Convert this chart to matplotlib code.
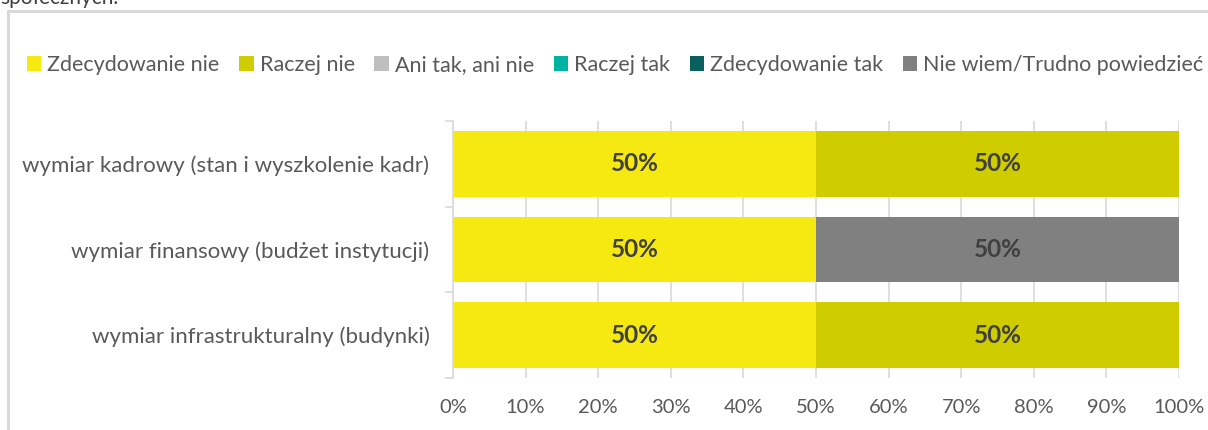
import matplotlib
matplotlib.use("Agg")
import matplotlib.pyplot as plt
from matplotlib.lines import Line2D
from matplotlib.patches import Patch
import numpy as np

plt.rcParams['font.family'] = ['Lato', 'DejaVu Sans']

categories = ["wymiar kadrowy (stan i wyszkolenie kadr)",
              "wymiar finansowy (budżet instytucji)",
              "wymiar infrastrukturalny (budynki)"]
series_names = ["Zdecydowanie nie", "Raczej nie", "Ani tak, ani nie",
                "Raczej tak", "Zdecydowanie tak", "Nie wiem/Trudno powiedzieć"]
series_colors = ["#F5E911", "#CFCC00", "#BFBFBF", "#00B3A1", "#0B5E5E", "#808080"]
values = {
    "Zdecydowanie nie": [50, 50, 50],
    "Raczej nie": [50, 0, 50],
    "Ani tak, ani nie": [0, 0, 0],
    "Raczej tak": [0, 0, 0],
    "Zdecydowanie tak": [0, 0, 0],
    "Nie wiem/Trudno powiedzieć": [0, 50, 0],
}
xtick_labels = ["0%", "10%", "20%", "30%", "40%", "50%", "60%", "70%", "80%", "90%", "100%"]

W, H = 1208, 430
fig = plt.figure(figsize=(W / 100, H / 100), dpi=100)

# frame of the chart area (partially visible)
frame_col = "#D9D9D9"
fig.add_artist(Line2D([8 / W, 8 / W], [0, 1 - 11 / H], color=frame_col, lw=2.2, transform=fig.transFigure))
fig.add_artist(Line2D([8 / W, 1], [1 - 11 / H, 1 - 11 / H], color=frame_col, lw=2.2, transform=fig.transFigure))
fig.text(0, 1 - 4 / H, "społecznych.", fontsize=15, color="#404040", ha="left", va="baseline")

ax = fig.add_axes([453 / W, 1 - 378 / H, (1179 - 453) / W, (378 - 121) / H])
ypos = np.arange(len(categories))[::-1]
left = np.zeros(len(categories))
text_col = "#595959"
for name, col in zip(series_names, series_colors):
    v = np.array(values[name], dtype=float)
    ax.barh(ypos, v, left=left, height=0.77, color=col, zorder=2, label=name)
    for y, l, w in zip(ypos, left, v):
        if w > 0:
            ax.text(l + w / 2, y, f"{int(round(w))}%", ha="center", va="center",
                    fontsize=17.5, fontweight="bold", color="#404040", zorder=3)
    left += v

ax.set_xlim(0, 100)
ax.set_ylim(-0.5, 2.5)
ax.set_xticks(np.arange(0, 101, 10))
ax.set_xticklabels(xtick_labels, fontsize=14.5, color=text_col)
ax.tick_params(axis="x", length=0, pad=15)
ax.set_yticks(ypos)
ax.set_yticklabels(categories, fontsize=16, color=text_col)
ax.tick_params(axis="y", which="major", length=0, pad=17)
ax.set_yticks([-0.5, 0.5, 1.5, 2.5], minor=True)
ax.tick_params(axis="y", which="minor", length=6, color=frame_col, width=1.2)
ax.grid(axis="x", color=frame_col, lw=1.2, zorder=0)
for s in ["top", "right", "bottom"]:
    ax.spines[s].set_visible(False)
ax.spines["left"].set_color(frame_col)
ax.spines["left"].set_linewidth(1.2)

handles = [Patch(facecolor=c, edgecolor="none") for c in series_colors]
fig.legend(handles, series_names, loc="center left", bbox_to_anchor=(27 / W, 1 - 65 / H),
           ncol=6, frameon=False, fontsize=15.5, handlelength=0.66, handleheight=0.66,
           handletextpad=0.28, columnspacing=0.92, labelcolor=text_col, borderaxespad=0, borderpad=0)

fig.savefig("out.png", dpi=100)
